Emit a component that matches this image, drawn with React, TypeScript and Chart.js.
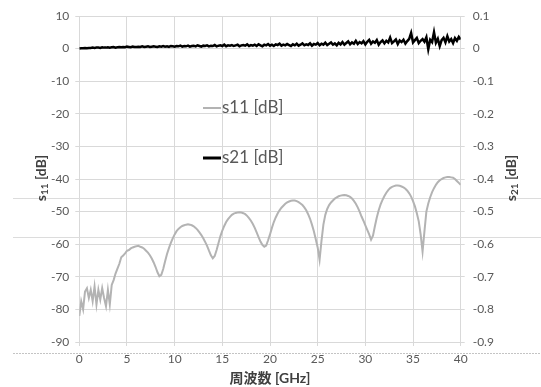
import React, { useEffect, useRef } from "react";
import { Chart, registerables } from "chart.js";
Chart.register(...registerables);

// frequency axis [GHz]
const freqGHz = [
  0, 0.2, 0.4, 0.6, 0.8, 1, 1.2, 1.4, 1.6, 1.8,
  2, 2.2, 2.4, 2.6, 2.8, 3, 3.2, 3.4, 3.6, 3.8,
  4, 4.2, 4.4, 4.6, 4.8, 5, 5.2, 5.4, 5.6, 5.8,
  6, 6.2, 6.4, 6.6, 6.8, 7, 7.2, 7.4, 7.6, 7.8,
  8, 8.2, 8.4, 8.6, 8.8, 9, 9.2, 9.4, 9.6, 9.8,
  10, 10.2, 10.4, 10.6, 10.8, 11, 11.2, 11.4, 11.6, 11.8,
  12, 12.2, 12.4, 12.6, 12.8, 13, 13.2, 13.4, 13.6, 13.8,
  14, 14.2, 14.4, 14.6, 14.8, 15, 15.2, 15.4, 15.6, 15.8,
  16, 16.2, 16.4, 16.6, 16.8, 17, 17.2, 17.4, 17.6, 17.8,
  18, 18.2, 18.4, 18.6, 18.8, 19, 19.2, 19.4, 19.6, 19.8,
  20, 20.2, 20.4, 20.6, 20.8, 21, 21.2, 21.4, 21.6, 21.8,
  22, 22.2, 22.4, 22.6, 22.8, 23, 23.2, 23.4, 23.6, 23.8,
  24, 24.2, 24.4, 24.6, 24.8, 25, 25.2, 25.4, 25.6, 25.8,
  26, 26.2, 26.4, 26.6, 26.8, 27, 27.2, 27.4, 27.6, 27.8,
  28, 28.2, 28.4, 28.6, 28.8, 29, 29.2, 29.4, 29.6, 29.8,
  30, 30.2, 30.4, 30.6, 30.8, 31, 31.2, 31.4, 31.6, 31.8,
  32, 32.2, 32.4, 32.6, 32.8, 33, 33.2, 33.4, 33.6, 33.8,
  34, 34.2, 34.4, 34.6, 34.8, 35, 35.2, 35.4, 35.6, 35.8,
  36, 36.2, 36.4, 36.6, 36.8, 37, 37.2, 37.4, 37.6, 37.8,
  38, 38.2, 38.4, 38.6, 38.8, 39, 39.2, 39.4, 39.6, 39.8,
  40,
];

// s11 [dB] (left axis)
const s11dB = [
  -82.0, -77.5, -80.0, -74.5, -73.5, -76.5, -74.0, -77.5, -73.0, -78.5,
  -74.0, -77.0, -73.5, -76.5, -79.0, -74.0, -78.5, -72.5, -71.0, -69.0,
  -67.5, -66.0, -64.0, -63.5, -62.8, -62.0, -61.8, -61.3, -61.0, -60.8,
  -60.6, -60.5, -60.8, -61.0, -61.4, -62.0, -62.6, -63.4, -64.4, -65.6,
  -67.0, -68.6, -69.8, -69.4, -67.6, -65.2, -63.0, -61.2, -59.6, -58.2,
  -57.0, -56.0, -55.3, -54.8, -54.4, -54.2, -54.0, -53.9, -54.0, -54.2,
  -54.5, -55.0, -55.6, -56.4, -57.2, -58.2, -59.3, -60.5, -62.0, -63.4,
  -64.3, -63.6, -61.8, -59.6, -57.5, -55.8, -54.4, -53.2, -52.3, -51.6,
  -51.0, -50.6, -50.4, -50.3, -50.2, -50.3, -50.5, -50.8, -51.3, -52.0,
  -52.8, -53.8, -55.0, -56.4, -57.8, -59.2, -60.2, -60.8, -60.4, -58.8,
  -57.0, -55.0, -53.2, -51.8, -50.6, -49.6, -48.8, -48.2, -47.6, -47.2,
  -46.9, -46.7, -46.6, -46.6, -46.8, -47.1, -47.5, -48.0, -48.7, -49.6,
  -50.8, -52.2, -54.0, -56.0, -58.5, -61.0, -64.8, -59.0, -54.0, -51.0,
  -49.2, -48.0, -47.2, -46.6, -46.0, -45.6, -45.3, -45.1, -45.0, -44.9,
  -45.0, -45.2, -45.5, -46.0, -46.7, -47.6, -48.7, -50.0, -51.5, -52.8,
  -54.2, -55.6, -57.0, -58.6, -57.4, -54.5, -51.8, -49.6, -47.8, -46.4,
  -45.2, -44.2, -43.4, -42.8, -42.4, -42.2, -42.0, -42.0, -42.1, -42.3,
  -42.6, -43.0, -43.6, -44.4, -45.4, -46.8, -48.4, -50.5, -53.0, -57.0,
  -62.3, -56.0, -50.0, -47.5, -45.6, -44.0, -42.8, -41.8, -41.0, -40.4,
  -40.0, -39.7, -39.5, -39.4, -39.4, -39.5, -39.6, -40.0, -40.6, -41.2,
  -41.8,
];

// s21 [dB] (right axis)
const s21dB = [
  0.000, 0.001, 0.001, 0.002, 0.001, 0.002, 0.002, 0.003, 0.002, 0.003,
  0.003, 0.002, 0.004, 0.003, 0.003, 0.004, 0.003, 0.004, 0.005, 0.003,
  0.004, 0.005, 0.004, 0.005, 0.004, 0.006, 0.005, 0.004, 0.006, 0.005,
  0.005, 0.006, 0.005, 0.007, 0.005, 0.006, 0.007, 0.005, 0.006, 0.007,
  0.006, 0.005, 0.007, 0.006, 0.008, 0.006, 0.007, 0.005, 0.008, 0.007,
  0.006, 0.008, 0.007, 0.009, 0.006, 0.008, 0.007, 0.009, 0.006, 0.008,
  0.009, 0.007, 0.010, 0.008, 0.006, 0.009, 0.008, 0.010, 0.007, 0.009,
  0.008, 0.011, 0.007, 0.009, 0.010, 0.008, 0.012, 0.007, 0.010, 0.009,
  0.011, 0.008, 0.010, 0.012, 0.007, 0.010, 0.011, 0.009, 0.013, 0.008,
  0.011, 0.009, 0.012, 0.008, 0.013, 0.010, 0.007, 0.012, 0.010, 0.014,
  0.009, 0.012, 0.008, 0.013, 0.011, 0.015, 0.009, 0.012, 0.010, 0.014,
  0.011, 0.008, 0.013, 0.010, 0.015, 0.009, 0.012, 0.016, 0.010, 0.013,
  0.011, 0.016, 0.009, 0.014, 0.012, 0.017, 0.010, 0.015, 0.012, 0.018,
  0.011, 0.015, 0.019, 0.012, 0.016, 0.010, 0.018, 0.013, 0.020, 0.012,
  0.017, 0.022, 0.013, 0.019, 0.015, 0.024, 0.014, 0.020, 0.016, 0.023,
  0.013, 0.021, 0.027, 0.015, 0.022, 0.018, 0.026, 0.012, 0.020, 0.025,
  0.016, 0.024, 0.019, 0.034, 0.017, 0.022, 0.028, 0.014, 0.025, 0.020,
  0.027, 0.015, 0.023, 0.030, 0.048, 0.019, 0.026, 0.033, 0.017, 0.024,
  0.029, 0.021, 0.035, -0.002, 0.027, 0.020, 0.050, 0.018, 0.030, 0.008,
  0.026, 0.033, 0.019, 0.038, 0.022, 0.029, 0.017, 0.032, 0.024, 0.036,
  0.028,
];

const leftTicks = [-90, -80, -70, -60, -50, -40, -30, -20, -10, 0, 10];
const rightTicks = [-0.9, -0.8, -0.7, -0.6, -0.5, -0.4, -0.3, -0.2, -0.1, 0, 0.1];
const xTicks = [0, 5, 10, 15, 20, 25, 30, 35, 40];

const seriesLabels = ["s11 [dB]", "s21 [dB]"];
const xTitle = "周波数 [GHz]";

const FONT = "Lato, 'Noto Sans CJK JP', sans-serif";
const TICK_COLOR = "#595959";
const GRID_COLOR = "#d9d9d9";

const overlayPlugin = {
  id: "overlay",
  beforeDatasetsDraw(chart: any) {
    const ctx = chart.ctx;
    ctx.save();
    ctx.strokeStyle = "#dcdcdc";
    ctx.lineWidth = 1;
    [198.5, 237.5].forEach((y) => {
      ctx.beginPath();
      ctx.moveTo(13, y);
      ctx.lineTo(541, y);
      ctx.stroke();
    });
    ctx.strokeStyle = "#c4c4c4";
    ctx.setLineDash([2, 1]);
    ctx.beginPath();
    ctx.moveTo(13, 353.5);
    ctx.lineTo(541, 353.5);
    ctx.stroke();
    ctx.restore();
  },
  afterDraw(chart: any) {
    const ctx = chart.ctx;
    const ds = chart.data.datasets;
    ctx.save();
    // legend inside plot
    const legendY = [108, 158];
    ds.forEach((d: any, i: number) => {
      const y = legendY[i];
      ctx.strokeStyle = d.borderColor;
      ctx.lineWidth = i === 0 ? 2 : 3;
      ctx.beginPath();
      ctx.moveTo(203, y);
      ctx.lineTo(221, y);
      ctx.stroke();
      ctx.fillStyle = TICK_COLOR;
      ctx.font = `17px ${FONT}`;
      ctx.textBaseline = "middle";
      ctx.textAlign = "left";
      ctx.fillText(d.label, 222, y);
    });

    // x title
    ctx.fillStyle = "#404040";
    ctx.font = `bold 14px ${FONT}`;
    ctx.textAlign = "center";
    ctx.textBaseline = "middle";
    ctx.fillText(xTitle, 270, 378);

    // y titles with subscripts
    const drawYTitle = (cx: number, cy: number, sub: string) => {
      ctx.save();
      ctx.translate(cx, cy);
      ctx.rotate(-Math.PI / 2);
      ctx.textAlign = "left";
      ctx.textBaseline = "middle";
      const big = `bold 14px ${FONT}`;
      const small = `bold 10px ${FONT}`;
      ctx.font = big;
      const w1 = ctx.measureText("s").width;
      const w3 = ctx.measureText(" [dB]").width;
      ctx.font = small;
      const w2 = ctx.measureText(sub).width;
      let x = -(w1 + w2 + w3) / 2;
      ctx.font = big;
      ctx.fillText("s", x, 0);
      x += w1;
      ctx.font = small;
      ctx.fillText(sub, x, 4);
      x += w2;
      ctx.font = big;
      ctx.fillText(" [dB]", x, 0);
      ctx.restore();
    };
    drawYTitle(41, 178, "11");
    drawYTitle(511, 178, "21");
    ctx.restore();
  },
};

export default function App() {
  const ref = useRef<HTMLCanvasElement | null>(null);
  useEffect(() => {
    document.body.style.margin = "0";
    const canvas = ref.current!;
    const chart = new Chart(canvas, {
      type: "line",
      data: {
        datasets: [
          {
            label: seriesLabels[0],
            data: freqGHz.map((f, i) => ({ x: f, y: s11dB[i] })),
            borderColor: "#b3b3b3",
            borderWidth: 2,
            pointRadius: 0,
            tension: 0,
            yAxisID: "y",
          },
          {
            label: seriesLabels[1],
            data: freqGHz.map((f, i) => ({ x: f, y: s21dB[i] })),
            borderColor: "#000000",
            borderWidth: 2.5,
            pointRadius: 0,
            tension: 0,
            yAxisID: "y2",
          },
        ],
      },
      options: {
        animation: false,
        responsive: false,
        layout: { padding: { top: 16, left: 0, right: 0, bottom: 0 } },
        plugins: { legend: { display: false }, tooltip: { enabled: false } },
        scales: {
          x: {
            type: "linear",
            min: 0,
            max: 40,
            afterBuildTicks: (s: any) => {
              s.ticks = xTicks.map((v) => ({ value: v }));
            },
            afterFit: (s: any) => {
              s.height = 45;
            },
            ticks: { color: TICK_COLOR, font: { family: FONT, size: 12 }, padding: 6, maxRotation: 0 },
            grid: { color: GRID_COLOR, tickLength: 4 },
            border: { display: false },
          },
          y: {
            type: "linear",
            position: "left",
            min: -90,
            max: 10,
            afterBuildTicks: (s: any) => {
              s.ticks = leftTicks.map((v) => ({ value: v }));
            },
            afterFit: (s: any) => {
              s.width = 79.3;
            },
            ticks: { color: TICK_COLOR, font: { family: FONT, size: 12 }, padding: 6 },
            grid: { color: GRID_COLOR, tickLength: 4 },
            border: { display: false },
          },
          y2: {
            type: "linear",
            position: "right",
            min: -0.9,
            max: 0.1,
            afterBuildTicks: (s: any) => {
              s.ticks = rightTicks.map((v) => ({ value: v }));
            },
            afterFit: (s: any) => {
              s.width = 80.3;
            },
            ticks: {
              color: TICK_COLOR,
              font: { family: FONT, size: 12 },
              padding: 8,
              callback: (v: any) => String(Number(Number(v).toFixed(1)) || 0),
            },
            grid: { color: GRID_COLOR, tickLength: 4, drawOnChartArea: false },
            border: { display: false },
          },
        },
      },
      plugins: [overlayPlugin],
    });
    return () => chart.destroy();
  }, []);
  return (
    <div style={{ position: "absolute", left: 0, top: 0, width: 541, height: 387, background: "#fff" }}>
      <canvas ref={ref} width={541} height={387} />
    </div>
  );
}
